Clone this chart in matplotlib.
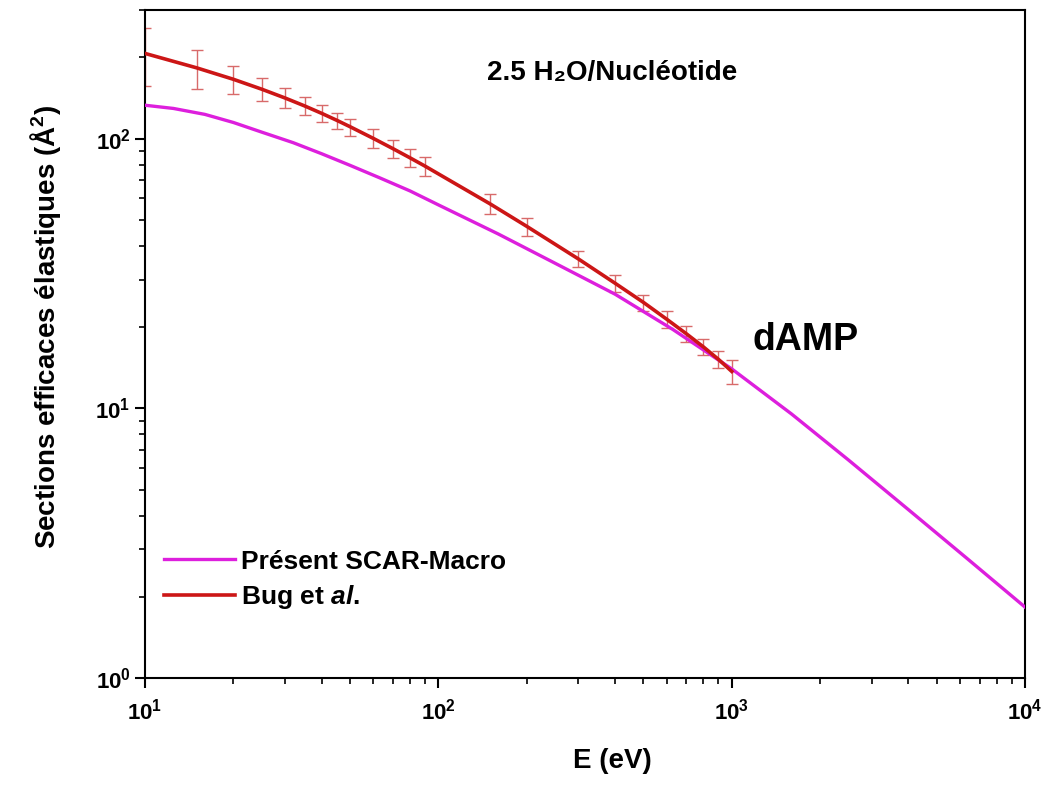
import numpy as np
import matplotlib
matplotlib.use("Agg")
import matplotlib.pyplot as plt

plt.rcParams['font.family'] = ['Liberation Sans', 'DejaVu Sans']
plt.rcParams['font.weight'] = 'bold'
plt.rcParams['mathtext.fontset'] = 'custom'
plt.rcParams['mathtext.rm'] = 'Liberation Sans:bold'
plt.rcParams['mathtext.it'] = 'Liberation Sans:bold:italic'
plt.rcParams['mathtext.bf'] = 'Liberation Sans:bold'

# ----------------------------------------------------------
# Data
# ----------------------------------------------------------
# Present SCAR-Macro (magenta curve)
e_scar = [10, 12.5, 16, 20, 25, 32, 40, 50, 63, 80, 100, 160, 250, 400,
          630, 1000, 1600, 2500, 4000, 6300, 10000]
s_scar = [133, 129.4, 123, 114.8, 105.7, 96.6, 87.9, 79.6, 71.6, 64.0,
          56.8, 44.3, 34.5, 26.5, 19.6, 14.0, 9.52, 6.43, 4.21, 2.79, 1.83]

# Bug et al. (red curve with error bars)
e_bug = [10, 15, 20, 25, 30, 35, 40, 45, 50, 60, 70, 80, 90, 150, 200,
         300, 400, 500, 600, 700, 800, 900, 1000]
s_bug = [207, 183, 166, 152.5, 141.5, 132.2, 124.1, 117.0, 110.7, 100.2,
         91.8, 84.9, 79.1, 57.3, 47.3, 35.8, 29.1, 24.7, 21.4, 18.9, 16.9,
         15.2, 13.7]
err_bug = [50, 30, 20, 15, 12, 10, 9, 8, 8, 8, 7, 6.5, 6.7, 4.8, 3.6,
           2.5, 2.0, 1.7, 1.5, 1.3, 1.2, 1.1, 1.4]

# ----------------------------------------------------------
# Plot
# ----------------------------------------------------------
fig = plt.figure(figsize=(10.48, 7.85), dpi=100)
ax = fig.add_axes([0.1384, 0.1363, 0.8398, 0.8510])

ax.plot(e_scar, s_scar, color='#dd1fdd', lw=2.4, label='Présent SCAR-Macro', zorder=3)
ax.errorbar(e_bug, s_bug, yerr=err_bug, fmt='none', ecolor='#d86a6a',
            elinewidth=1.0, capsize=4, capthick=1.0, zorder=2)
ax.plot(e_bug, s_bug, color='#cc1616', lw=2.6, label='Bug et $\\mathit{al.}$', zorder=4)

ax.set_xscale('log')
ax.set_yscale('log')
ax.set_xlim(10, 10000)
ax.set_ylim(1, 300)

for sp in ax.spines.values():
    sp.set_linewidth(1.5)
ax.tick_params(which='major', direction='out', length=7, width=1.5,
               labelsize=16, top=False, right=False)
ax.tick_params(which='minor', direction='out', length=4, width=1.2,
               top=False, right=False)
ax.tick_params(axis='x', which='major', pad=8)

ax.set_xlabel('E (eV)', fontsize=20, fontweight='bold')
ax.set_ylabel('Sections efficaces élastiques (Å$^2$)', fontsize=20,
              fontweight='bold')
ax.xaxis.set_label_coords(0.531, -0.105)
ax.yaxis.set_label_coords(-0.093, 0.525)

ax.text(0.531, 0.906, '2.5 H₂O/Nucléotide', transform=ax.transAxes,
        ha='center', va='center', fontsize=20, fontweight='bold')
ax.text(0.75, 0.506, 'dAMP', transform=ax.transAxes,
        ha='center', va='center', fontsize=27, fontweight='bold')

ax.legend(loc='upper left', bbox_to_anchor=(0.0, 0.22), frameon=False,
          fontsize=19, handlelength=2.7, handletextpad=0.25,
          labelspacing=0.35, borderaxespad=0.3)

fig.savefig('out.png', dpi=100)
